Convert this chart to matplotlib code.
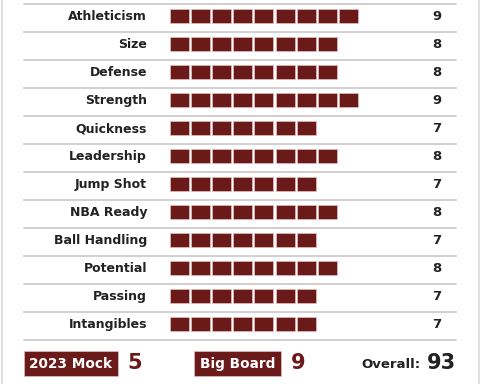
import matplotlib.pyplot as plt
from matplotlib.patches import Rectangle

skills = ['Athleticism', 'Size', 'Defense', 'Strength', 'Quickness', 'Leadership',
          'Jump Shot', 'NBA Ready', 'Ball Handling', 'Potential', 'Passing', 'Intangibles']
scores = [9, 8, 8, 9, 7, 8, 7, 8, 7, 8, 7, 7]
mock_rank = 5
board_rank = 9
overall = 93

maroon = '#6b1a1a'
plt.rcParams['font.family'] = ['DejaVu Sans']

fig = plt.figure(figsize=(4.8, 3.84), dpi=100)
ax = fig.add_axes([0, 0, 1, 1])
ax.set_xlim(0, 480)
ax.set_ylim(384, 0)
ax.axis('off')

# outer frame
ax.plot([1.5, 1.5], [0, 384], color='#d8d8d8', lw=1.2)
ax.plot([478.5, 478.5], [0, 384], color='#d8d8d8', lw=1.2)

for i, (name, s) in enumerate(zip(skills, scores)):
    top = 3.5 + 28 * i
    ax.plot([24, 456], [top, top], color='#c4c4c4', lw=1.1)
    yc = top + 12.5
    ax.text(147, yc + 0.5, name, ha='right', va='center', fontsize=9, fontweight='bold', color='#222222')
    for k in range(s):
        ax.add_patch(Rectangle((169.5 + 21.2 * k, yc - 6.7), 19, 13.4,
                               facecolor=maroon, edgecolor='#f0c8c8', lw=0.4))
    ax.text(437, yc + 0.5, str(s), ha='center', va='center', fontsize=9.5, fontweight='bold', color='#222222')
ax.plot([24, 456], [3.5 + 28 * 12, 3.5 + 28 * 12], color='#c4c4c4', lw=1.1)

# bottom badges
ax.add_patch(Rectangle((23.5, 351), 94, 25, facecolor=maroon, edgecolor='#f0c8c8', lw=0.4))
ax.text(70.5, 364, '2023 Mock', ha='center', va='center', fontsize=9.8, fontweight='bold', color='white')
ax.text(134.5, 363, str(mock_rank), ha='center', va='center', fontsize=15, fontweight='bold', color=maroon)

ax.add_patch(Rectangle((194, 351), 87, 25, facecolor=maroon, edgecolor='#f0c8c8', lw=0.4))
ax.text(237.5, 364, 'Big Board', ha='center', va='center', fontsize=9.8, fontweight='bold', color='white')
ax.text(298, 363, str(board_rank), ha='center', va='center', fontsize=15, fontweight='bold', color=maroon)

ax.text(420, 364, 'Overall:', ha='right', va='center', fontsize=9.5, fontweight='bold', color='#222222')
ax.text(456, 363, str(overall), ha='right', va='center', fontsize=15, fontweight='bold', color='#222222')

fig.savefig('out.png', dpi=100)
